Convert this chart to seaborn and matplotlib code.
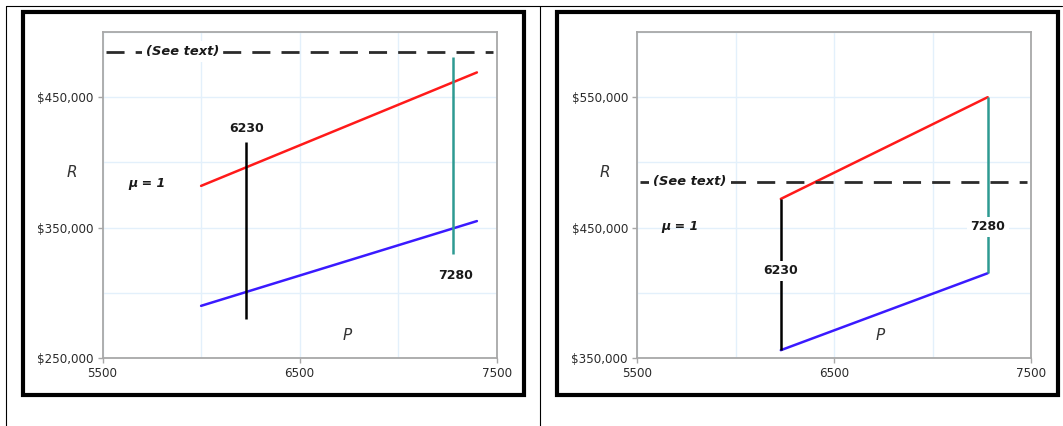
import matplotlib
matplotlib.use("Agg")
import matplotlib.pyplot as plt
from matplotlib.patches import Rectangle
from matplotlib.lines import Line2D
from matplotlib.ticker import MultipleLocator, FuncFormatter
import seaborn as sns
import pandas as pd

# ---- data ----
# Left panel: revenue lines over a wide range of P
p_left = [6000, 7400]
red_left = [382000, 469000]
blue_left = [290000, 355000]
# vertical markers (x, y_low, y_high)
v6230_left = [6230, 280000, 416000]
v7280_left = [7280, 330000, 481000]

# Right panel: revenue lines between the two marker values
p_right = [6230, 7280]
red_right = [472000, 550000]
blue_right = [356000, 415000]
v6230_right = [6230, 356000, 472000]
v7280_right = [7280, 415000, 550000]

see_text_level = 485000
x_ticks = [5500, 6500, 7500]
y_ticks_left = [250000, 350000, 450000]
y_ticks_right = [350000, 450000, 550000]
y_range_left = (250000, 500000)
y_range_right = (350000, 600000)

RED = "#ff1a1a"
BLUE = "#3a1aff"
TEAL = "#2e9a92"
GRID = "#e3f0fb"
SPINE = "#a8a8a8"
TEXT = "#1a1a1a"

sns.set_theme(style="white")
plt.rcParams["font.family"] = ["DejaVu Sans"]

W, H = 1063, 426
fig = plt.figure(figsize=(W / 100, H / 100), dpi=100)


def px_axes(x0, x1, y0, y1):
    return fig.add_axes([x0 / W, 1 - y1 / H, (x1 - x0) / W, (y1 - y0) / H])


def money(v, _):
    return f"${v:,.0f}"


def style_axes(ax, yticks, yrange):
    ax.set_xlim(5500, 7500)
    ax.set_ylim(*yrange)
    ax.xaxis.set_major_locator(plt.FixedLocator(x_ticks))
    ax.xaxis.set_minor_locator(MultipleLocator(500))
    ax.yaxis.set_major_locator(plt.FixedLocator(yticks))
    ax.yaxis.set_minor_locator(MultipleLocator(50000))
    ax.yaxis.set_major_formatter(FuncFormatter(money))
    ax.grid(True, which="both", color=GRID, lw=1.0, zorder=0)
    ax.set_axisbelow(True)
    for s in ax.spines.values():
        s.set_color(SPINE)
        s.set_linewidth(1.3)
    ax.tick_params(which="major", length=3.5, width=1, color=SPINE,
                   labelsize=8.6, labelcolor="#2a2a2a", pad=3,
                   left=True, bottom=True)
    ax.tick_params(which="minor", length=0)
    ax.set_xlabel("")
    ax.set_ylabel("")


def see_text(ax, x):
    ax.axhline(see_text_level, xmin=0.008, xmax=0.99, color="#2b2b2b",
               lw=2.0, ls=(0, (6.5, 4.0)), zorder=3)
    ax.text(x, see_text_level, "(See text)", ha="center", va="center",
            fontsize=9.4, fontweight="bold", fontstyle="italic", color=TEXT,
            bbox=dict(facecolor="white", edgecolor="none", pad=3.0), zorder=4)


def lines(ax, p, red, blue):
    df = pd.DataFrame({"P": p + p, "R": red + blue,
                       "series": ["upper"] * len(p) + ["lower"] * len(p)})
    sns.lineplot(data=df, x="P", y="R", hue="series",
                 palette={"upper": RED, "lower": BLUE},
                 lw=1.8, legend=False, ax=ax, zorder=3)


def vline(ax, v, color):
    ax.vlines(v[0], v[1], v[2], color=color, lw=1.8, zorder=3)


# ---- left panel ----
axL = px_axes(102.6, 496.6, 32, 358)
lines(axL, p_left, red_left, blue_left)
style_axes(axL, y_ticks_left, y_range_left)
vline(axL, v6230_left, "black")
vline(axL, v7280_left, TEAL)
see_text(axL, 5905)
axL.text(6233, 426000, "6230", ha="center", va="center", fontsize=9,
         fontweight="bold", color=TEXT, zorder=4)
axL.text(7290, 313000, "7280", ha="center", va="center", fontsize=9,
         fontweight="bold", color=TEXT, zorder=4)
axL.text(5343, 392500, "R", ha="center", va="center", fontsize=11,
         fontstyle="italic", color="#333333", clip_on=False)
axL.text(5723, 384000, "\u03bc = 1", ha="center", va="center", fontsize=9,
         fontweight="bold", fontstyle="italic", color=TEXT)
axL.text(6741, 267000, "P", ha="center", va="center", fontsize=11,
         fontstyle="italic", color="#333333")

# ---- right panel ----
axR = px_axes(637, 1031, 32, 358)
lines(axR, p_right, red_right, blue_right)
style_axes(axR, y_ticks_right, y_range_right)
vline(axR, v6230_right, "black")
vline(axR, v7280_right, TEAL)
see_text(axR, 5769)
axR.text(6230, 417000, "6230", ha="center", va="center", fontsize=9,
         fontweight="bold", color=TEXT, zorder=4,
         bbox=dict(facecolor="white", edgecolor="none", pad=2.5))
axR.text(7280, 450500, "7280", ha="center", va="center", fontsize=9,
         fontweight="bold", color=TEXT, zorder=4,
         bbox=dict(facecolor="white", edgecolor="none", pad=2.5))
axR.text(5338, 492500, "R", ha="center", va="center", fontsize=11,
         fontstyle="italic", color="#333333", clip_on=False)
axR.text(5718, 451000, "\u03bc = 1", ha="center", va="center", fontsize=9,
         fontweight="bold", fontstyle="italic", color=TEXT)
axR.text(6734, 367000, "P", ha="center", va="center", fontsize=11,
         fontstyle="italic", color="#333333")


# ---- frames and table rules, in pixel coordinates ----
def rect_px(x0, y0, x1, y1, lw):
    fig.patches.append(Rectangle((x0 / W, 1 - y1 / H), (x1 - x0) / W,
                                 (y1 - y0) / H, transform=fig.transFigure,
                                 fill=False, edgecolor="black", lw=lw,
                                 zorder=10))


def line_px(xs, ys, lw=0.8):
    fig.lines.append(Line2D([x / W for x in xs], [1 - y / H for y in ys],
                            transform=fig.transFigure, color="black", lw=lw))


rect_px(23, 12, 524, 395, 3.0)
rect_px(557, 12, 1058, 395, 3.0)
line_px([6, 1062], [6, 6])
line_px([6, 6], [6, 426])
line_px([540, 540], [6, 426])

fig.savefig("out.png", dpi=100, facecolor="white")
